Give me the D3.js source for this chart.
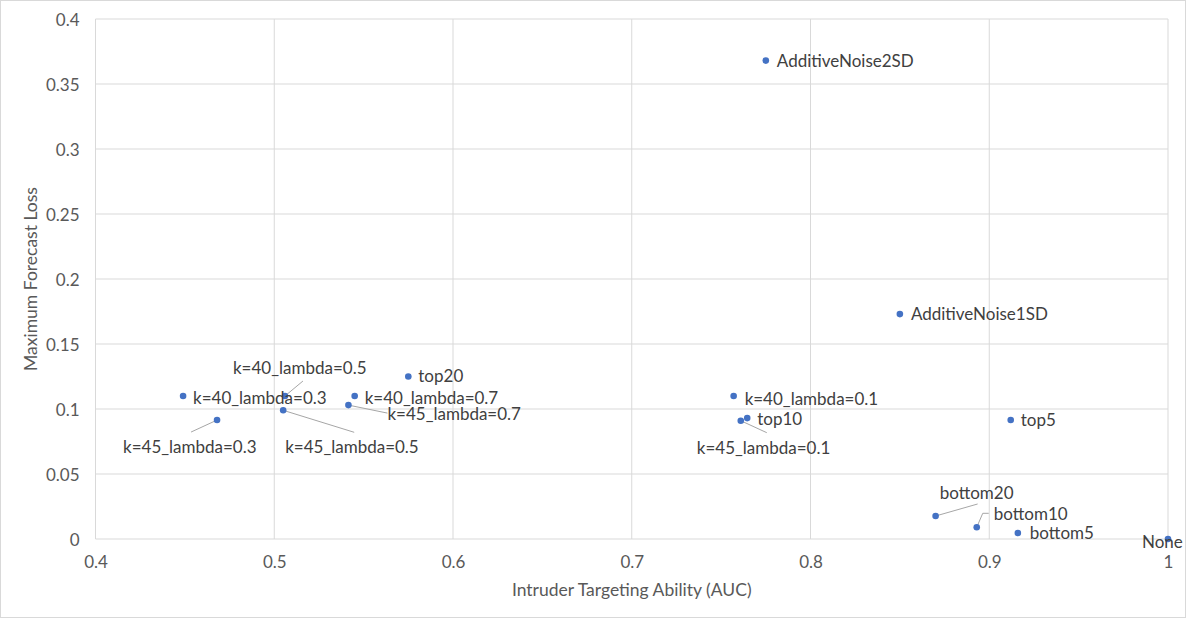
<!DOCTYPE html>
<html>
  <head>
    <meta charset="utf-8">
    <title>Targeting ability vs forecast loss</title>
    <script src="https://d3js.org/d3.v7.min.js"></script>
    <style>
      body { margin: 0; background: #fff; }
      svg { font-family: Lato, "Open Sans", sans-serif; }
    </style>
  </head>
  <body>
    <div id="chart"></div>
    <script>
      // Data
      var names = ["AdditiveNoise2SD", "AdditiveNoise1SD", "top20", "k=40_lambda=0.3",
        "k=40_lambda=0.5", "k=45_lambda=0.3", "k=45_lambda=0.5", "k=40_lambda=0.7",
        "k=45_lambda=0.7", "k=40_lambda=0.1", "top10", "k=45_lambda=0.1", "top5",
        "bottom20", "bottom10", "bottom5", "None"];
      var auc = [0.775, 0.850, 0.575, 0.449, 0.506, 0.468, 0.505, 0.545,
        0.5415, 0.757, 0.7646, 0.761, 0.912, 0.870, 0.893, 0.916, 1.0];
      var loss = [0.368, 0.173, 0.125, 0.110, 0.110, 0.0915, 0.099, 0.110,
        0.103, 0.110, 0.093, 0.091, 0.0915, 0.0177, 0.009, 0.0046, 0.0];
      var xTicks = [0.4, 0.5, 0.6, 0.7, 0.8, 0.9, 1];
      var yTicks = [0, 0.05, 0.1, 0.15, 0.2, 0.25, 0.3, 0.35, 0.4];

      // Label placement (pixel offsets from the point); lead = leader line points
      var labelPos = {
        "AdditiveNoise2SD": {dx: 11, dy: 0},
        "AdditiveNoise1SD": {dx: 11, dy: 0},
        "top20": {dx: 10, dy: 0},
        "k=40_lambda=0.3": {dx: 10, dy: 2},
        "k=40_lambda=0.5": {dx: -52, dy: -28, lead: [18, -15]},
        "k=45_lambda=0.3": {dx: -94, dy: 27, lead: [-26, 12]},
        "k=45_lambda=0.5": {dx: 2, dy: 37, lead: [71, 22]},
        "k=40_lambda=0.7": {dx: 10, dy: 2},
        "k=45_lambda=0.7": {dx: 39, dy: 9, lead: [39, 8]},
        "k=40_lambda=0.1": {dx: 11, dy: 3},
        "top10": {dx: 10, dy: 1},
        "k=45_lambda=0.1": {dx: -44, dy: 27, lead: [26, 12]},
        "top5": {dx: 10, dy: 0},
        "bottom20": {dx: 4, dy: -23, lead: [42, -12]},
        "bottom10": {dx: 17, dy: -13, lead: [6, -14, 12, -14]},
        "bottom5": {dx: 12, dy: 0},
        "None": {dx: -26, dy: 3}
      };

      var width = 1186, height = 618;
      var margin = {left: 95.5, right: 18, top: 19, bottom: 79};

      var svg = d3.select("#chart").append("svg")
        .attr("width", width).attr("height", height);

      svg.append("rect")
        .attr("x", 0.5).attr("y", 0.5)
        .attr("width", width - 1).attr("height", height - 1)
        .attr("fill", "#fff").attr("stroke", "#d9d9d9");

      var x = d3.scaleLinear().domain([0.4, 1]).range([margin.left, width - margin.right]);
      var y = d3.scaleLinear().domain([0, 0.4]).range([height - margin.bottom, margin.top]);

      // Gridlines
      svg.append("g")
        .selectAll("line").data(xTicks).enter().append("line")
        .attr("x1", function (d) { return x(d); }).attr("x2", function (d) { return x(d); })
        .attr("y1", y(0)).attr("y2", y(0.4))
        .attr("stroke", "#d9d9d9");
      svg.append("g")
        .selectAll("line").data(yTicks).enter().append("line")
        .attr("x1", x(0.4)).attr("x2", x(1))
        .attr("y1", function (d) { return y(d); }).attr("y2", function (d) { return y(d); })
        .attr("stroke", "#d9d9d9");

      // Axes (labels only, Excel style)
      var fmt = function (d) { return String(+d.toFixed(2)); };
      var xAxis = svg.append("g")
        .attr("transform", "translate(0," + y(0) + ")")
        .call(d3.axisBottom(x).tickValues(xTicks).tickSize(0).tickPadding(17).tickFormat(fmt));
      var yAxis = svg.append("g")
        .attr("transform", "translate(" + x(0.4) + ",0)")
        .call(d3.axisLeft(y).tickValues(yTicks).tickSize(0).tickPadding(16).tickFormat(fmt));
      [xAxis, yAxis].forEach(function (g) {
        g.select(".domain").remove();
        g.selectAll("text").attr("fill", "#595959")
          .style("font-size", "17px").style("font-family", "Lato, sans-serif");
      });
      yAxis.selectAll("text").attr("dy", "0.36em");

      // Axis titles
      svg.append("text")
        .attr("x", (x(0.4) + x(1)) / 2).attr("y", 596)
        .attr("text-anchor", "middle").attr("fill", "#595959")
        .style("font-size", "17.5px")
        .text("Intruder Targeting Ability (AUC)");
      svg.append("text")
        .attr("transform", "translate(37," + ((y(0) + y(0.4)) / 2) + ") rotate(-90)")
        .attr("text-anchor", "middle").attr("fill", "#595959")
        .style("font-size", "17.5px")
        .text("Maximum Forecast Loss");

      var pts = names.map(function (n, i) { return {name: n, x: auc[i], y: loss[i]}; });

      // Leader lines
      svg.append("g").selectAll("polyline")
        .data(pts.filter(function (d) { return labelPos[d.name].lead; }))
        .enter().append("polyline")
        .attr("fill", "none").attr("stroke", "#a6a6a6")
        .attr("points", function (d) {
          var px = x(d.x), py = y(d.y), l = labelPos[d.name].lead;
          var p = [[px, py]];
          for (var k = 0; k < l.length; k += 2) p.push([px + l[k], py + l[k + 1]]);
          return p.map(function (q) { return q.join(","); }).join(" ");
        });

      // Points
      svg.append("g").selectAll("circle").data(pts).enter().append("circle")
        .attr("cx", function (d) { return x(d.x); })
        .attr("cy", function (d) { return y(d.y); })
        .attr("r", 3.3)
        .attr("fill", "#4472c4");

      // Data labels
      svg.append("g").selectAll("text").data(pts).enter().append("text")
        .attr("x", function (d) { return x(d.x) + labelPos[d.name].dx; })
        .attr("y", function (d) { return y(d.y) + labelPos[d.name].dy; })
        .attr("dy", "0.35em")
        .attr("fill", "#404040")
        .style("font-size", "17px")
        .text(function (d) { return d.name; });
    </script>
  </body>
</html>
